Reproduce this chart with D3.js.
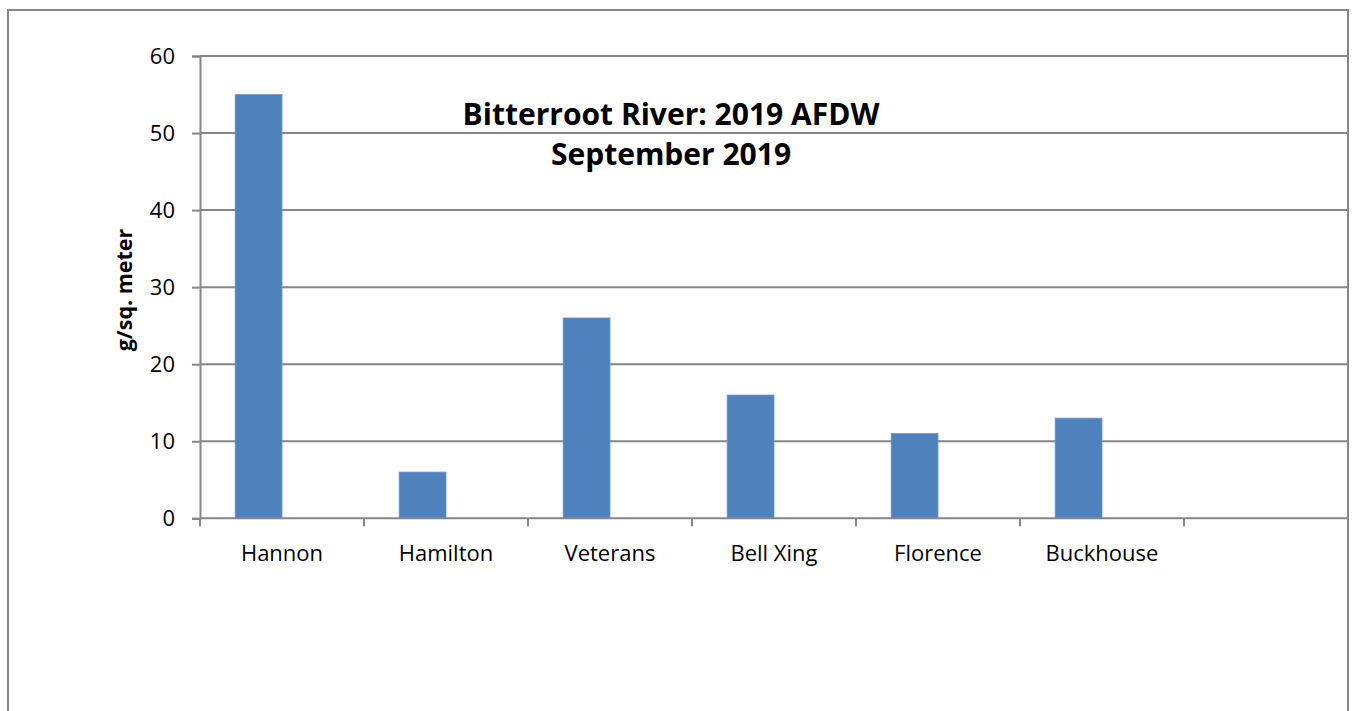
<!DOCTYPE html>
<html>
<head>
<meta charset="utf-8">
<script src="https://cdn.jsdelivr.net/npm/d3@7"></script>
<style>
  html, body { margin: 0; padding: 0; background: #fff; }
  svg { display: block; font-family: "Open Sans", "Noto Sans", sans-serif; }
</style>
</head>
<body>
<svg id="chart" width="1354" height="711"></svg>
<script>
// Sites along the river; the last slot is an empty category
const categories = ["Hannon", "Hamilton", "Veterans", "Bell Xing", "Florence", "Buckhouse", ""];
// Ash-free dry weight, g per square meter
const afdw = [55, 6, 26, 16, 11, 13, null];
// Second (empty) series that keeps each bar left of its category centre
const seriesNames = ["AFDW", "blank"];
const yTicks = [0, 10, 20, 30, 40, 50, 60];
const titleLines = ["Bitterroot River: 2019 AFDW", "September 2019"];
const yTitle = "g/sq. meter";

const svg = d3.select("#chart");
const gridColor = "#868686";
const barColor = "#4F81BD";

// outer chart frame
svg.append("rect")
  .attr("x", 8).attr("y", 10)
  .attr("width", 1340).attr("height", 720)
  .attr("fill", "none").attr("stroke", gridColor).attr("stroke-width", 2);

const plot = { left: 200, right: 1348, top: 56, bottom: 518.3 };

const x = d3.scaleBand()
  .domain(categories.map((c, i) => i))
  .range([plot.left, plot.right])
  .paddingInner(0).paddingOuter(0);

// two series per category with a 150% gap width
const bw = x.bandwidth() / 3.5;
const xs = d3.scaleBand().domain(seriesNames).range([0.75 * bw, 2.75 * bw]).padding(0);

const y = d3.scaleLinear().domain([0, 60]).range([plot.bottom, plot.top]);

// horizontal gridlines
svg.append("g")
  .selectAll("line")
  .data(yTicks.filter(t => t > 0))
  .join("line")
  .attr("x1", plot.left).attr("x2", plot.right)
  .attr("y1", d => y(d)).attr("y2", d => y(d))
  .attr("stroke", gridColor).attr("stroke-width", 2);

// bars
svg.append("g")
  .selectAll("rect")
  .data(afdw.map((v, i) => ({ v, i })).filter(d => d.v != null))
  .join("rect")
  .attr("x", d => x(d.i) + xs("AFDW"))
  .attr("width", xs.bandwidth())
  .attr("y", d => y(d.v))
  .attr("height", d => y(0) - y(d.v))
  .attr("fill", barColor)
  .attr("stroke", "#6F97C9").attr("stroke-width", 0.8);

// y axis
const yAxis = d3.axisLeft(y).tickValues(yTicks).tickSize(8).tickPadding(17);
const gy = svg.append("g").attr("transform", `translate(${plot.left},0)`).call(yAxis);
gy.select(".domain").attr("stroke", gridColor).attr("stroke-width", 2);
gy.selectAll(".tick line").attr("stroke", gridColor).attr("stroke-width", 2);
gy.selectAll(".tick text")
  .attr("font-family", "Open Sans").attr("font-size", 22).attr("fill", "#000");

// x axis (ticks on category boundaries)
const boundaries = d3.range(categories.length + 1).map(i => plot.left + i * x.bandwidth());
svg.append("line")
  .attr("x1", plot.left).attr("x2", plot.right)
  .attr("y1", y(0)).attr("y2", y(0))
  .attr("stroke", gridColor).attr("stroke-width", 2);
svg.append("g").selectAll("line")
  .data(boundaries)
  .join("line")
  .attr("x1", d => d).attr("x2", d => d)
  .attr("y1", y(0)).attr("y2", y(0) + 8)
  .attr("stroke", gridColor).attr("stroke-width", 2);
svg.append("g").selectAll("text")
  .data(categories)
  .join("text")
  .attr("x", (d, i) => x(i) + x.bandwidth() / 2)
  .attr("y", 561)
  .attr("text-anchor", "middle")
  .attr("font-size", 22)
  .attr("fill", "#000")
  .text(d => d);

// y axis title
svg.append("text")
  .attr("transform", `translate(132,290) rotate(-90)`)
  .attr("text-anchor", "middle")
  .attr("font-size", 21.5).attr("font-weight", "bold")
  .attr("fill", "#000")
  .text(yTitle);

// chart title
svg.append("g").selectAll("text")
  .data(titleLines)
  .join("text")
  .attr("x", 671)
  .attr("y", (d, i) => 125 + i * 40)
  .attr("text-anchor", "middle")
  .attr("font-size", 30).attr("font-weight", "bold")
  .attr("fill", "#000")
  .text(d => d);
</script>
</body>
</html>
